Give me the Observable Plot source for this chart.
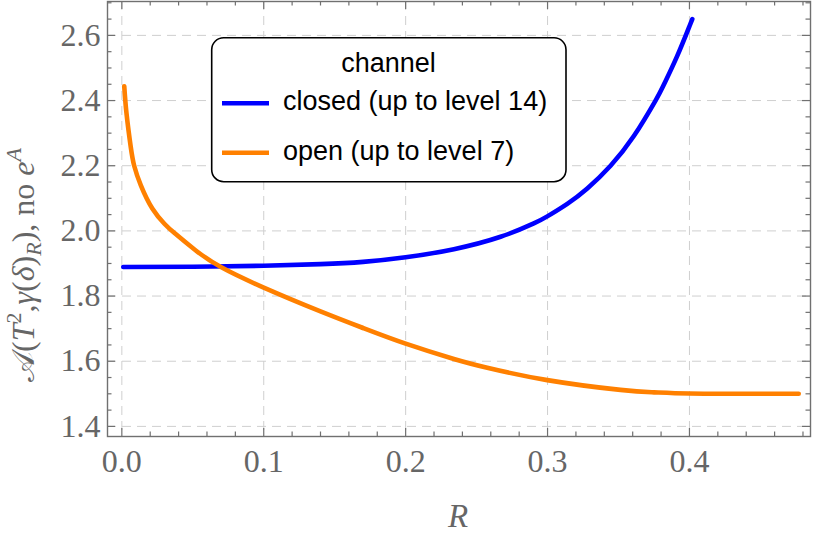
<!DOCTYPE html>
<html><head><meta charset="utf-8">
<script src="https://cdn.jsdelivr.net/npm/d3@7"></script>
<script src="https://cdn.jsdelivr.net/npm/@observablehq/plot@0.6"></script>
<style>body{margin:0;background:#fff}</style>
</head><body><div id="chart"></div>
<script>
const seriesNames = ["closed (up to level 14)", "open (up to level 7)"];
const seriesColors = ["#0000ff", "#ff8000"];
const closedR = [0.001, 0.05, 0.1, 0.14, 0.17, 0.2, 0.234, 0.2669, 0.2903, 0.2998, 0.3139, 0.328, 0.3444, 0.3608, 0.3761, 0.382, 0.3914, 0.40, 0.402];
const closedV = [1.889, 1.890, 1.893, 1.898, 1.905, 1.919, 1.944, 1.982, 2.023, 2.0445, 2.083, 2.130, 2.20, 2.291, 2.40, 2.449, 2.537, 2.628, 2.65];
const openR = [0.0017, 0.0033, 0.0063, 0.0087, 0.0134, 0.0216, 0.03, 0.0369, 0.0521, 0.0698, 0.1, 0.14, 0.17, 0.2, 0.234, 0.2575, 0.2998, 0.3514, 0.375, 0.40, 0.44, 0.477];
const openV = [2.444, 2.36, 2.257, 2.20, 2.14, 2.068, 2.022, 1.994, 1.940, 1.889, 1.826, 1.753, 1.702, 1.654, 1.607, 1.580, 1.542, 1.512, 1.5045, 1.5008, 1.500, 1.500];
const xTicks = [0, 0.1, 0.2, 0.3, 0.4];
const yTicks = [1.4, 1.6, 1.8, 2.0, 2.2, 2.4, 2.6];
const xMinor = [0.02,0.04,0.06,0.08,0.12,0.14,0.16,0.18,0.22,0.24,0.26,0.28,0.32,0.34,0.36,0.38,0.42,0.44,0.46,0.48];
const yMinor = [1.45,1.5,1.55,1.65,1.7,1.75,1.85,1.9,1.95,2.05,2.1,2.15,2.25,2.3,2.35,2.45,2.5,2.55,2.65,2.7];
const xLabel = "R";
const legendTitle = "channel";

const xDom = [-0.0101, 0.4853];
const yDom = [1.369, 2.704];

const data = [
  ...closedR.map((r, i) => ({R: r, v: closedV[i], channel: seriesNames[0]})),
  ...openR.map((r, i) => ({R: r, v: openV[i], channel: seriesNames[1]}))
];

const frameColor = "#707070";
const gridStyle = {stroke: "#cfcfcf", strokeWidth: 1, strokeDasharray: "9,6"};

function xTickMarks(vals, len) {
  return [
    Plot.ruleX(vals, {x: d => d, y1: yDom[0], y2: yDom[0], insetBottom: len, stroke: frameColor, strokeWidth: 1.2}),
    Plot.ruleX(vals, {x: d => d, y1: yDom[1], y2: yDom[1], insetTop: len, stroke: frameColor, strokeWidth: 1.2})
  ];
}
function yTickMarks(vals, len) {
  return [
    Plot.ruleY(vals, {y: d => d, x1: xDom[0], x2: xDom[0], insetLeft: len, stroke: frameColor, strokeWidth: 1.2}),
    Plot.ruleY(vals, {y: d => d, x1: xDom[1], x2: xDom[1], insetRight: len, stroke: frameColor, strokeWidth: 1.2})
  ];
}

const chart = Plot.plot({
  width: 814, height: 538,
  marginLeft: 107, marginRight: 4, marginTop: 1, marginBottom: 102,
  style: {fontFamily: "'Liberation Serif', serif", background: "white"},
  x: {domain: xDom},
  y: {domain: yDom},
  color: {domain: seriesNames, range: seriesColors},
  marks: [
    Plot.ruleX(xTicks, {x: d => d, ...gridStyle}),
    Plot.ruleY(yTicks, {y: d => d, ...gridStyle}),
    Plot.line(data, {x: "R", y: "v", z: "channel", stroke: "channel", strokeWidth: 4.6, curve: "natural"}),
    ...xTickMarks(xTicks, 8), ...xTickMarks(xMinor, 4.5),
    ...yTickMarks(yTicks, 8), ...yTickMarks(yMinor, 4.5),
    Plot.frame({stroke: frameColor, strokeWidth: 1.4}),
    Plot.axisX({ticks: xTicks, tickSize: 0, tickPadding: 13, tickFormat: d3.format(".1f"), fontSize: 32, fill: "#666", label: null}),
    Plot.axisY({ticks: yTicks, tickSize: 0, tickPadding: 7, tickFormat: d3.format(".1f"), fontSize: 32, fill: "#666", label: null})
  ]
});
document.getElementById("chart").appendChild(chart);

const svg = d3.select(chart);
// x label
svg.append("text").attr("x", 458).attr("y", 527).attr("text-anchor", "middle")
  .attr("font-family", "'Liberation Serif', serif").attr("font-style", "italic")
  .attr("font-size", 33).attr("fill", "#666").text(xLabel);

// y label
const yl = svg.append("text").attr("transform", "translate(34,265) rotate(-90)")
  .attr("text-anchor", "middle").attr("font-family", "'Liberation Serif', serif")
  .attr("font-size", 32).attr("fill", "#666");
yl.append("tspan").text("𝒜(");
yl.append("tspan").attr("font-style", "italic").text("T");
yl.append("tspan").attr("font-size", 22).attr("dy", -13).text("2");
yl.append("tspan").attr("dy", 13).text(",");
yl.append("tspan").attr("font-style", "italic").text("γ");
yl.append("tspan").text("(");
yl.append("tspan").attr("font-style", "italic").text("δ");
yl.append("tspan").text(")");
yl.append("tspan").attr("font-size", 22).attr("font-style", "italic").attr("dy", 7).text("R");
yl.append("tspan").attr("dy", -7).text("), no ");
yl.append("tspan").attr("font-style", "italic").text("e");
yl.append("tspan").attr("font-size", 22).attr("font-style", "italic").attr("dy", -13).text("A");

// legend
const lg = svg.append("g").attr("font-family", "'Liberation Sans', Arial, sans-serif").attr("font-size", 27);
lg.append("rect").attr("x", 211.7).attr("y", 37.7).attr("width", 354.3).attr("height", 144)
  .attr("rx", 12).attr("fill", "white").attr("stroke", "black").attr("stroke-width", 1.6);
lg.append("text").attr("x", 388.5).attr("y", 72).attr("text-anchor", "middle").attr("fill", "black").text(legendTitle);
seriesNames.forEach((name, i) => {
  const yy = 103.3 + i * 49.4;
  lg.append("line").attr("x1", 222).attr("x2", 269).attr("y1", yy).attr("y2", yy)
    .attr("stroke", seriesColors[i]).attr("stroke-width", 4.6);
  lg.append("text").attr("x", 283).attr("y", yy + 7).attr("text-anchor", "start").attr("fill", "black").text(name);
});
</script>
</body></html>
